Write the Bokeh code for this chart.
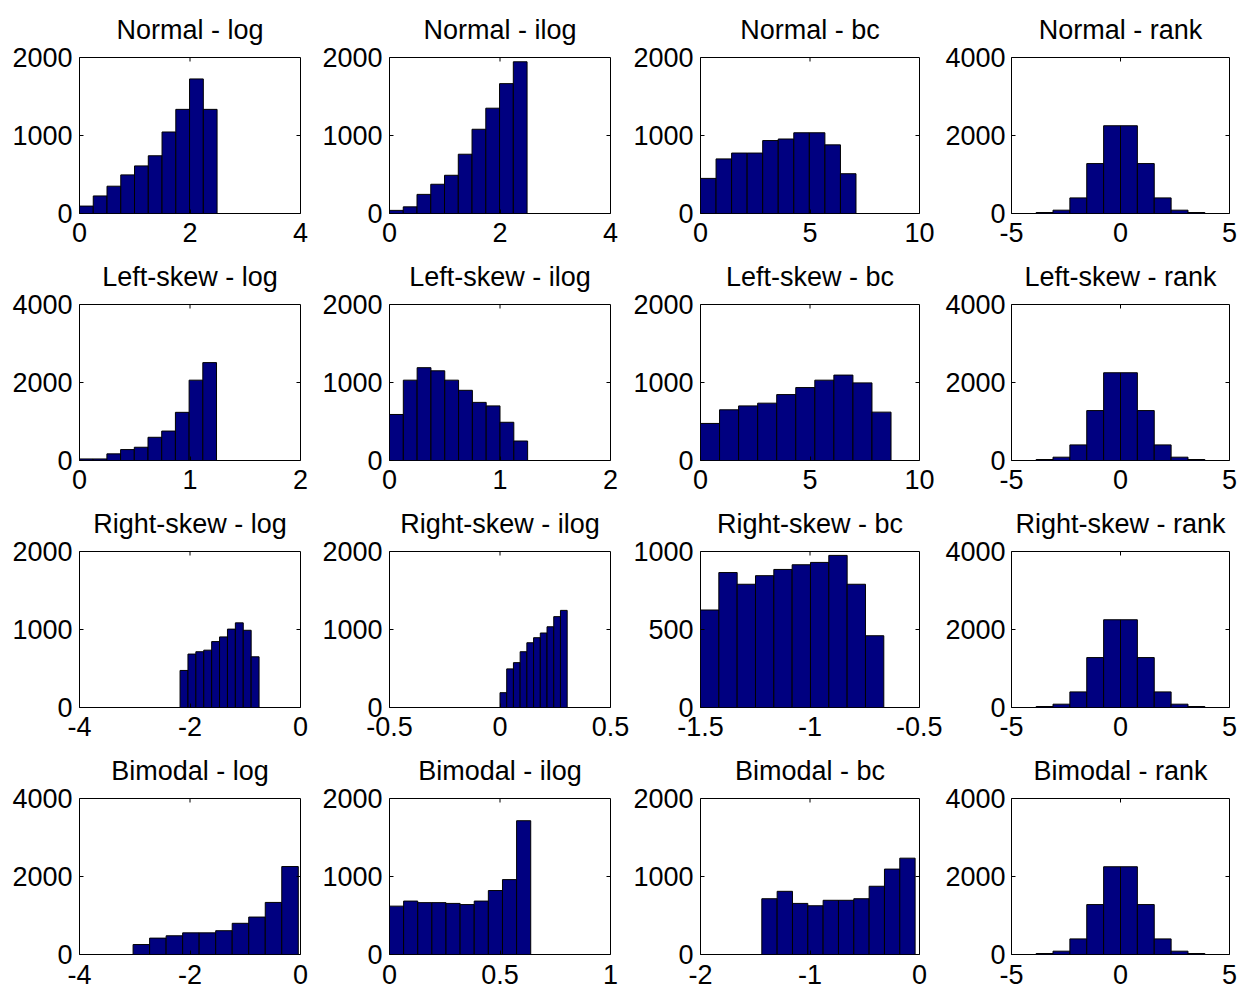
import numpy as np
from bokeh.plotting import figure
from bokeh.layouts import gridplot
from bokeh.models import FixedTicker, Range1d
from bokeh.embed import file_html
from bokeh.resources import INLINE

# ---------------- data ----------------
row_names = ["Normal", "Left-skew", "Right-skew", "Bimodal"]
col_names = ["log", "ilog", "bc", "rank"]

# histogram limits (first edge, last edge) and counts of the 10 bins
normal_log_lim = [0.0, 2.49]
normal_log_counts = [95, 225, 350, 495, 610, 740, 1045, 1335, 1725, 1335]
normal_ilog_lim = [0.0, 2.49]
normal_ilog_counts = [40, 85, 245, 375, 490, 760, 1080, 1350, 1665, 1945]
normal_bc_lim = [0.0, 7.1]
normal_bc_counts = [450, 700, 775, 775, 935, 955, 1035, 1035, 880, 510]

left_log_lim = [0.0, 1.24]
left_log_counts = [40, 40, 170, 280, 340, 595, 755, 1235, 2060, 2510]
left_ilog_lim = [0.0, 1.25]
left_ilog_counts = [590, 1030, 1190, 1150, 1030, 900, 745, 700, 490, 250]
left_bc_lim = [0.0, 8.7]
left_bc_counts = [475, 650, 700, 735, 845, 935, 1030, 1095, 995, 620]

right_log_lim = [-2.18, -0.75]
right_log_counts = [475, 685, 715, 735, 845, 905, 1005, 1085, 990, 650]
right_ilog_lim = [0.0, 0.304]
right_ilog_counts = [190, 495, 575, 715, 830, 895, 955, 1035, 1165, 1245]
right_bc_lim = [-1.5, -0.663]
right_bc_counts = [625, 865, 790, 845, 885, 915, 930, 975, 790, 460]

bimodal_log_lim = [-3.03, -0.04]
bimodal_log_counts = [255, 420, 480, 555, 555, 610, 800, 960, 1335, 2255]
bimodal_ilog_lim = [0.0, 0.639]
bimodal_ilog_counts = [620, 685, 665, 665, 655, 640, 685, 820, 960, 1715]
bimodal_bc_lim = [-1.44, -0.04]
bimodal_bc_counts = [715, 810, 655, 625, 695, 695, 715, 875, 1095, 1235]

rank_lim = [-3.87, 3.87]
rank_counts = [25, 85, 400, 1280, 2250, 2250, 1280, 400, 85, 25]

# axis ticks (per row, one list per column)
normal_xticks = [[0, 2, 4], [0, 2, 4], [0, 5, 10], [-5, 0, 5]]
left_xticks = [[0, 1, 2], [0, 1, 2], [0, 5, 10], [-5, 0, 5]]
right_xticks = [[-4, -2, 0], [-0.5, 0, 0.5], [-1.5, -1, -0.5], [-5, 0, 5]]
bimodal_xticks = [[-4, -2, 0], [0, 0.5, 1], [-2, -1, 0], [-5, 0, 5]]

normal_yticks = [[0, 1000, 2000], [0, 1000, 2000], [0, 1000, 2000], [0, 2000, 4000]]
left_yticks = [[0, 2000, 4000], [0, 1000, 2000], [0, 1000, 2000], [0, 2000, 4000]]
right_yticks = [[0, 1000, 2000], [0, 1000, 2000], [0, 500, 1000], [0, 2000, 4000]]
bimodal_yticks = [[0, 2000, 4000], [0, 1000, 2000], [0, 1000, 2000], [0, 2000, 4000]]

# ---------------- table built from the arrays ----------------
lims = [
    [normal_log_lim, normal_ilog_lim, normal_bc_lim, rank_lim],
    [left_log_lim, left_ilog_lim, left_bc_lim, rank_lim],
    [right_log_lim, right_ilog_lim, right_bc_lim, rank_lim],
    [bimodal_log_lim, bimodal_ilog_lim, bimodal_bc_lim, rank_lim],
]
counts = [
    [normal_log_counts, normal_ilog_counts, normal_bc_counts, rank_counts],
    [left_log_counts, left_ilog_counts, left_bc_counts, rank_counts],
    [right_log_counts, right_ilog_counts, right_bc_counts, rank_counts],
    [bimodal_log_counts, bimodal_ilog_counts, bimodal_bc_counts, rank_counts],
]
xticks = [normal_xticks, left_xticks, right_xticks, bimodal_xticks]
yticks = [normal_yticks, left_yticks, right_yticks, bimodal_yticks]

# ---------------- style / layout ----------------
FONT = "Liberation Sans"
FS = "27px"
BAR = "#000080"
col_widths = [318, 312, 312, 297]
col_left = [79, 71, 68, 66]
y_standoff = [7, 7, 7, 6]
frame_w = 221
row_heights = [248, 247, 247, 248]
row_top = [57, 56, 56, 56]
frame_h = 156
x_standoff = [9, 9, 9, 10]
title_standoff = [22, 22, 22, 22]


def fmt(v):
    return "%g" % v


def style_axis(ax, ticks, standoff):
    ax.ticker = FixedTicker(ticks=ticks)
    ax.major_tick_in = 4
    ax.major_tick_out = 0
    ax.minor_tick_line_color = None
    ax.axis_line_color = None
    ax.major_tick_line_color = "black"
    ax.major_label_overrides = {t: fmt(t) for t in ticks}
    ax.major_label_text_font = FONT
    ax.major_label_text_font_size = FS
    ax.major_label_text_color = "black"
    ax.major_label_standoff = standoff


rows = []
for r in range(4):
    row = []
    for c in range(4):
        xt = xticks[r][c]
        yt = yticks[r][c]
        w = col_widths[c]
        h = row_heights[r]
        p = figure(
            width=w, height=h,
            output_backend="svg", toolbar_location=None,
            x_range=Range1d(xt[0], xt[-1]), y_range=Range1d(0, yt[-1]),
            min_border_left=col_left[c],
            min_border_right=w - col_left[c] - frame_w,
            min_border_top=row_top[r],
            min_border_bottom=h - row_top[r] - frame_h,
            title=f"{row_names[r]} - {col_names[c]}",
        )
        p.title.text_font = FONT
        p.title.text_font_size = FS
        p.title.text_font_style = "normal"
        p.title.text_color = "black"
        p.title.align = "center"
        p.title.vertical_align = "top"
        p.title.standoff = title_standoff[r]

        style_axis(p.below[0], xt, x_standoff[r])
        style_axis(p.left[0], yt, y_standoff[c])

        p.background_fill_color = "white"
        p.border_fill_color = "white"
        p.outline_line_color = "black"
        p.outline_line_width = 1
        p.xgrid.visible = False
        p.ygrid.visible = False

        lo, hi = lims[r][c]
        cnt = counts[r][c]
        edges = np.linspace(lo, hi, len(cnt) + 1)
        p.quad(left=edges[:-1], right=edges[1:], bottom=0, top=cnt,
               fill_color=BAR, line_color="black", line_width=1)

        # inner tick marks on the top and right edges of the box
        inner_x = xt[1:-1]
        p.scatter(x=inner_x, y=[yt[-1]] * len(inner_x), marker="dash",
                  size=8, angle=np.pi / 2, line_color="black", line_width=1)
        inner_y = yt[1:-1]
        p.scatter(x=[xt[-1]] * len(inner_y), y=inner_y, marker="dash",
                  size=8, line_color="black", line_width=1)
        row.append(p)
    rows.append(row)

grid = gridplot(rows, toolbar_location=None)
open("out.html", "w").write(file_html(grid, INLINE))
